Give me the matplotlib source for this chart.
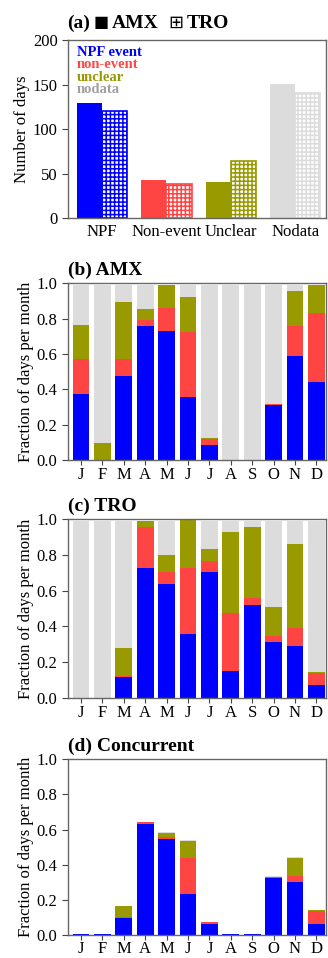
import numpy as np
import matplotlib.pyplot as plt

plt.close("all")
plt.rcParams["font.family"] = ["Liberation Serif", "DejaVu Serif", "DejaVu Sans"]
plt.rcParams["hatch.linewidth"] = 1.1

# cores das classes
azul = "#0000ff"
vermelho = "#ff4444"
oliva = "#999900"
cinza = "#dcdcdc"

# (a) numero de dias por classe
categorias = ["NPF", "Non-event", "Unclear", "Nodata"]
dias_amx = [129, 43, 41, 151]
dias_tro = [121, 38, 64, 141]

meses = ["J", "F", "M", "A", "M", "J", "J", "A", "S", "O", "N", "D"]

# (b) AMX - fracao de dias por mes
amx_npf = [0.375, 0.0, 0.475, 0.758, 0.732, 0.357, 0.087, 0.0, 0.0, 0.313, 0.590, 0.442]
amx_non = [0.195, 0.0, 0.095, 0.034, 0.130, 0.366, 0.034, 0.0, 0.0, 0.004, 0.167, 0.388]
amx_unc = [0.194, 0.098, 0.326, 0.065, 0.128, 0.202, 0.004, 0.0, 0.0, 0.0, 0.201, 0.160]
amx_nod = [0.226, 0.892, 0.094, 0.133, 0.0, 0.065, 0.865, 0.99, 0.99, 0.673, 0.032, 0.0]

# (c) TRO
tro_npf = [0.0, 0.0, 0.118, 0.724, 0.636, 0.356, 0.701, 0.151, 0.521, 0.312, 0.289, 0.073]
tro_non = [0.0, 0.0, 0.003, 0.233, 0.065, 0.368, 0.066, 0.323, 0.035, 0.035, 0.101, 0.067]
tro_unc = [0.0, 0.0, 0.159, 0.034, 0.098, 0.270, 0.063, 0.451, 0.401, 0.160, 0.468, 0.006]
tro_nod = [0.99, 0.99, 0.710, 0.0, 0.191, 0.0, 0.160, 0.065, 0.033, 0.483, 0.132, 0.844]

# (d) concorrente
con_npf = [0.007, 0.007, 0.098, 0.634, 0.548, 0.236, 0.067, 0.007, 0.007, 0.325, 0.303, 0.067]
con_non = [0.0, 0.0, 0.008, 0.007, 0.009, 0.200, 0.008, 0.0, 0.0, 0.008, 0.033, 0.069]
con_unc = [0.0, 0.0, 0.058, 0.0, 0.026, 0.100, 0.0, 0.0, 0.0, 0.0, 0.100, 0.006]
con_nod = [0.0, 0.0, 0.004, 0.003, 0.005, 0.004, 0.002, 0.0, 0.0, 0.003, 0.006, 0.004]

W, H = 328, 958
fig = plt.figure(figsize=(W / 100, H / 100), dpi=100)

esq = 0.2073
larg = 0.7866
alt = 0.186
fundos = [0.7721, 0.5198, 0.2717, 0.0236]


def estilo(ax):
    for s in ax.spines.values():
        s.set_color("#666666")
        s.set_linewidth(1.0)
    ax.tick_params(axis="both", labelsize=12, color="#444444", length=4, width=0.8)


# ---- (a)
ax = fig.add_axes([esq, fundos[0], larg, alt])
x = np.arange(len(categorias))
cores = [azul, vermelho, oliva, cinza]
ax.bar(x - 0.195, dias_amx, width=0.39, color=cores, linewidth=0)
ax.bar(x + 0.195, dias_tro, width=0.39, facecolor="white", edgecolor=cores,
       hatch="++++", linewidth=1.2)
ax.set_xlim(-0.53, 3.48)
ax.set_ylim(0, 200)
ax.set_yticks([0, 50, 100, 150, 200])
ax.set_xticks(x)
ax.set_xticklabels(categorias)
estilo(ax)
ax.tick_params(axis="x", length=0, pad=4)
ax.set_ylabel("Number of days", fontsize=12, labelpad=2)

# titulo (a) montado por pedacos, simbolos em DejaVu Sans
yb = 1 - 28 / H
fig.text(67 / W, yb, "(a)", fontsize=14, fontweight="bold", va="baseline")
fig.text(94 / W, yb + 0.001, "\u25a0", fontsize=11.5, family="DejaVu Sans", va="baseline")
fig.text(112 / W, yb, "AMX", fontsize=14, fontweight="bold", va="baseline")
fig.text(168 / W, yb, "\u229e", fontsize=13, family="DejaVu Sans", va="baseline")
fig.text(187 / W, yb, "TRO", fontsize=14, fontweight="bold", va="baseline")

legenda = [("NPF event", azul), ("non-event", vermelho), ("unclear", oliva), ("nodata", "#a0a0a0")]
for i, (txt, c) in enumerate(legenda):
    ax.text(0.035, 0.93 - i * 0.069, txt, color=c, fontweight="bold", fontsize=10.5,
            transform=ax.transAxes, va="center", ha="left")


# ---- (b), (c), (d)
def empilhado(ax, npf, non, unc, nod, titulo, pad_x=1.5):
    xm = np.arange(len(meses))
    partes = [(npf, azul), (non, vermelho), (unc, oliva), (nod, cinza)]
    base = np.zeros(len(meses))
    for vals, c in partes:
        vals = np.array(vals)
        ax.bar(xm, vals, bottom=base, width=0.78, color=c, linewidth=0)
        base = base + vals
    ax.set_xlim(-0.61, 11.45)
    ax.set_ylim(0, 1.0)
    ax.set_yticks(np.arange(0, 1.01, 0.2))
    ax.set_yticklabels(["%.1f" % v for v in np.arange(0, 1.01, 0.2)])
    ax.set_xticks(xm)
    ax.set_xticklabels(meses)
    estilo(ax)
    ax.tick_params(axis="x", length=3.5, pad=pad_x)
    ax.set_ylabel("Fraction of days per month", fontsize=12, labelpad=2)
    ax.set_title(titulo, loc="left", fontweight="bold", fontsize=14, pad=6)


ax_b = fig.add_axes([esq, fundos[1], larg, 0.1845])
empilhado(ax_b, amx_npf, amx_non, amx_unc, amx_nod, "(b) AMX")

ax_c = fig.add_axes([esq, fundos[2], larg, 0.1865])
empilhado(ax_c, tro_npf, tro_non, tro_unc, tro_nod, "(c) TRO")

ax_d = fig.add_axes([esq, fundos[3], larg, 0.1842])
empilhado(ax_d, con_npf, con_non, con_unc, con_nod, "(d) Concurrent", pad_x=0.5)

plt.savefig("out.png", dpi=100)
